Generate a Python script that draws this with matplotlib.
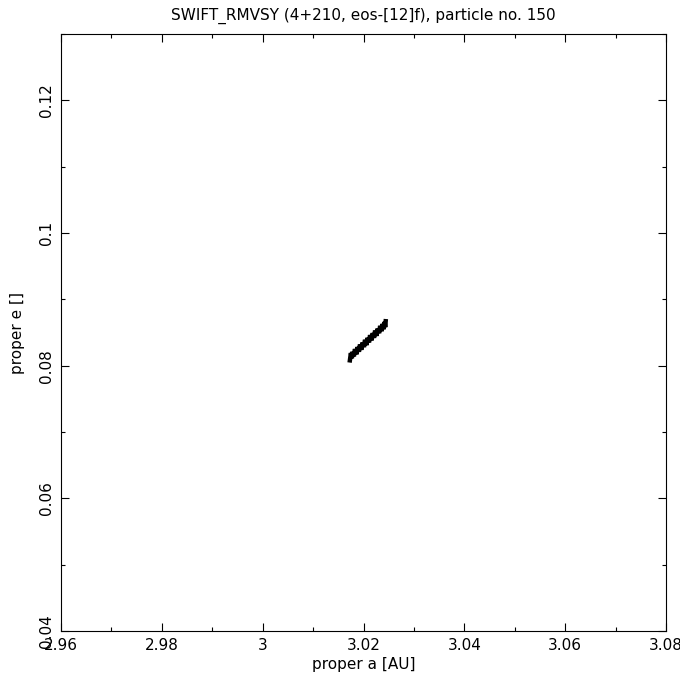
import matplotlib
matplotlib.use("Agg")
import matplotlib.pyplot as plt
from matplotlib.ticker import MultipleLocator

# proper elements of particle 150
prop_a = [3.0173, 3.0175, 3.0177, 3.0178, 3.0181, 3.0183, 3.0186, 3.0188,
          3.0191, 3.0193, 3.0196, 3.0198, 3.0201, 3.0203, 3.0206, 3.0208,
          3.0211, 3.0213, 3.0216, 3.0218, 3.0221, 3.0223, 3.0226, 3.0228,
          3.0231, 3.0233, 3.0236, 3.0238, 3.0240, 3.0242, 3.0243, 3.0244]
prop_e = [0.0808, 0.0819, 0.0811, 0.0821, 0.0814, 0.0825, 0.0817, 0.0828,
          0.0821, 0.0832, 0.0824, 0.0835, 0.0828, 0.0839, 0.0831, 0.0842,
          0.0835, 0.0846, 0.0838, 0.0849, 0.0842, 0.0853, 0.0845, 0.0856,
          0.0849, 0.0860, 0.0852, 0.0863, 0.0855, 0.0866, 0.0858, 0.0867]

xticks = [2.96, 2.98, 3.00, 3.02, 3.04, 3.06, 3.08]
xticklabels = ["2.96", "2.98", "3", "3.02", "3.04", "3.06", "3.08"]
yticks = [0.04, 0.06, 0.08, 0.10, 0.12]
yticklabels = ["0.04", "0.06", "0.08", "0.1", "0.12"]

fig = plt.figure(figsize=(6.8, 6.8), dpi=100)
ax = fig.add_axes([61 / 680, 49 / 680, 605 / 680, 597 / 680])

ax.plot(prop_a, prop_e, color="black", lw=3.2, solid_joinstyle="miter")

ax.set_xlim(2.96, 3.08)
ax.set_ylim(0.04, 0.13)
ax.set_xticks(xticks)
ax.set_xticklabels(xticklabels)
ax.set_yticks(yticks)
ax.set_yticklabels(yticklabels, rotation=90, va="center")
ax.xaxis.set_minor_locator(MultipleLocator(0.01))
ax.yaxis.set_minor_locator(MultipleLocator(0.01))

ax.tick_params(which="both", direction="in", top=True, right=True,
               width=0.8, labelsize=11, pad=5)
ax.tick_params(which="major", length=6)
ax.tick_params(which="minor", length=3)
for s in ax.spines.values():
    s.set_linewidth(0.8)

ax.set_xlabel("proper a [AU]", fontsize=11, labelpad=3)
ax.set_ylabel("proper e []", fontsize=11, labelpad=10)
ax.set_title("SWIFT_RMVSY (4+210, eos-[12]f), particle no. 150", fontsize=11, pad=10)

fig.savefig("out.png", dpi=100)
